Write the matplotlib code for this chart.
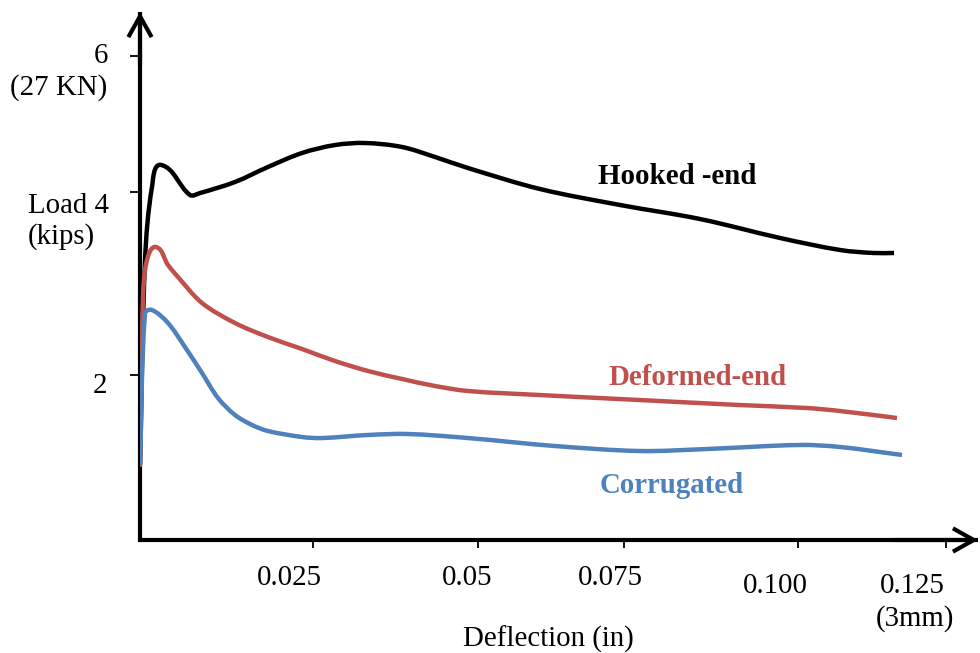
import numpy as np
import matplotlib
matplotlib.use("Agg")
import matplotlib.pyplot as plt
from matplotlib.path import Path
from matplotlib.patches import PathPatch, FancyArrowPatch

# ---------------- data (deflection in inches, load in kips) ----------------
hooked_x = [0.0, 0.00078, 0.00186, 0.00326, 0.00775, 0.00931, 0.01473,
            0.01985, 0.02512, 0.03024, 0.03489, 0.04063, 0.04575, 0.05087, 0.06203,
            0.07444, 0.08685, 0.09926, 0.10856, 0.11368, 0.11694]
hooked_y = [0.930, 3.471, 4.376, 4.649, 4.277, 4.301, 4.438,
            4.624, 4.797, 4.896, 4.921, 4.872, 4.748, 4.611, 4.351,
            4.153, 3.979, 3.744, 3.595, 3.558, 3.558]

deformed_x = [0.0, 0.00047, 0.00109, 0.00248, 0.00434, 0.00589, 0.00962, 0.01473,
              0.01985, 0.02512, 0.03024, 0.03536, 0.04063, 0.04575, 0.05087, 0.06203,
              0.07754, 0.09305, 0.10344, 0.10856, 0.1174]
deformed_y = [0.905, 3.012, 3.471, 3.632, 3.409, 3.260, 2.938, 2.690,
              2.516, 2.368, 2.219, 2.095, 1.996, 1.909, 1.847, 1.797,
              1.735, 1.673, 1.636, 1.599, 1.512]

corrugated_x = [0.0, 0.00078, 0.00186, 0.00434, 0.00698, 0.00962, 0.0121, 0.01473,
                0.01737, 0.01985, 0.02512, 0.02823, 0.03536, 0.04156, 0.05087, 0.06436,
                0.07754, 0.08793, 0.10236, 0.10856, 0.11818]
corrugated_y = [0.930, 2.814, 2.851, 2.690, 2.392, 2.070, 1.760, 1.550,
                1.426, 1.351, 1.277, 1.264, 1.302, 1.314, 1.264, 1.165,
                1.103, 1.128, 1.178, 1.153, 1.054]

series_names = ["Hooked -end", "Deformed-end", "Corrugated"]
series_colors = ["#000000", "#C0504D", "#4F81BD"]

xtick_pos = [0.02683, 0.05242, 0.07506, 0.10205, 0.125]
xtick_labels = ["0.025", "0.05", "0.075", "0.100", "0.125"]
ytick_pos = [2.05, 4.31, 6.0]
ytick_labels = ["2", "Load 4", "6"]

# ---------------- figure ----------------
W, H = 980, 653
XSCALE, YSCALE = 6448.0, 80.67   # pixels per data unit
fig = plt.figure(figsize=(W / 100, H / 100), dpi=100)
ax = fig.add_axes([140 / W, 1 - 540 / H, 838 / W, 528 / H])
ax.set_xlim(0, 838 / XSCALE)
ax.set_ylim(0, 528 / YSCALE)
ax.patch.set_alpha(0)
for s in ax.spines.values():
    s.set_visible(False)

FONT = "Liberation Serif"
FS = 20.8


def fxy(px, py):
    return px / W, 1 - py / H


def smooth_path(xs, ys):
    """Smoothed Bezier path through the points (chord-length handles)."""
    sc = np.array([XSCALE, YSCALE])
    pts = np.column_stack([xs, ys]).astype(float) * sc
    n = len(pts)
    tang = np.zeros_like(pts)
    for i in range(n):
        a = pts[max(i - 1, 0)]
        b = pts[min(i + 1, n - 1)]
        d = b - a
        tang[i] = d / (np.hypot(*d) + 1e-12)
    verts = [pts[0]]
    codes = [Path.MOVETO]
    for i in range(n - 1):
        p1, p2 = pts[i], pts[i + 1]
        L = np.hypot(*(p2 - p1)) / 3.0
        verts += [p1 + tang[i] * L, p2 - tang[i + 1] * L, p2]
        codes += [Path.CURVE4] * 3
    return Path(np.array(verts) / sc, codes)


# axes lines (L shape) + arrow heads
ax.plot([0, 0, 1], [1, 0, 0], transform=ax.transAxes, color="black", lw=3,
        clip_on=False, solid_joinstyle="miter", solid_capstyle="butt", zorder=2)
for a, b in [((0, 0.9), (0, 1)), ((0.9, 0), (1, 0))]:
    arr = FancyArrowPatch(a, b, transform=ax.transAxes,
                          arrowstyle="->,head_length=0.75,head_width=0.42",
                          mutation_scale=20, lw=3, color="black",
                          shrinkA=0, shrinkB=0, clip_on=False, zorder=2,
                          joinstyle="miter", capstyle="butt")
    ax.add_patch(arr)

# ticks
ax.set_xticks(xtick_pos)
ax.set_yticks(ytick_pos)
ax.tick_params(axis="x", direction="out", length=5.5, width=1.3, labelbottom=False)
ax.tick_params(axis="y", direction="out", length=7, width=1.3, labelleft=False)

# curves
for xs, ys, c in [(hooked_x, hooked_y, series_colors[0]),
                  (deformed_x, deformed_y, series_colors[1]),
                  (corrugated_x, corrugated_y, series_colors[2])]:
    patch = PathPatch(smooth_path(xs, ys), fill=False, edgecolor=c, lw=3.2,
                      transform=ax.transData, capstyle="butt", joinstyle="round",
                      zorder=3)
    ax.add_patch(patch)

# series labels
ax.text(0.0710, 4.41, series_names[0], color=series_colors[0], fontsize=FS,
        fontweight="bold", family=FONT, ha="left", va="baseline")
ax.text(0.0726, 1.92, series_names[1], color=series_colors[1], fontsize=FS,
        fontweight="bold", family=FONT, ha="left", va="baseline")
ax.text(0.0713, 0.58, series_names[2], color=series_colors[2], fontsize=FS,
        fontweight="bold", family=FONT, ha="left", va="baseline")

# y-axis labels
txt = dict(fontsize=FS, family=FONT, color="black")
fig.text(*fxy(108, 63), ytick_labels[2], ha="right", va="baseline", **txt)
fig.text(*fxy(107, 95), "(27 KN)", ha="right", va="baseline", **txt)
fig.text(*fxy(109, 213), ytick_labels[1], ha="right", va="baseline", **txt)
fig.text(*fxy(28, 244), "(kips)", ha="left", va="baseline", **txt)
fig.text(*fxy(107, 393), ytick_labels[0], ha="right", va="baseline", **txt)

# x-axis labels
xl_centers = [289, 467, 610, 775, 912]
xl_base = [585, 585, 585, 593, 593]
for lab, cx, by in zip(xtick_labels, xl_centers, xl_base):
    fig.text(*fxy(cx, by), lab, ha="center", va="baseline", **txt)
fig.text(*fxy(915, 626), "(3mm)", ha="center", va="baseline", **txt)
fig.text(*fxy(548, 647), "Deflection (in)", ha="center", va="baseline", **txt)

fig.savefig("out.png", dpi=100)
